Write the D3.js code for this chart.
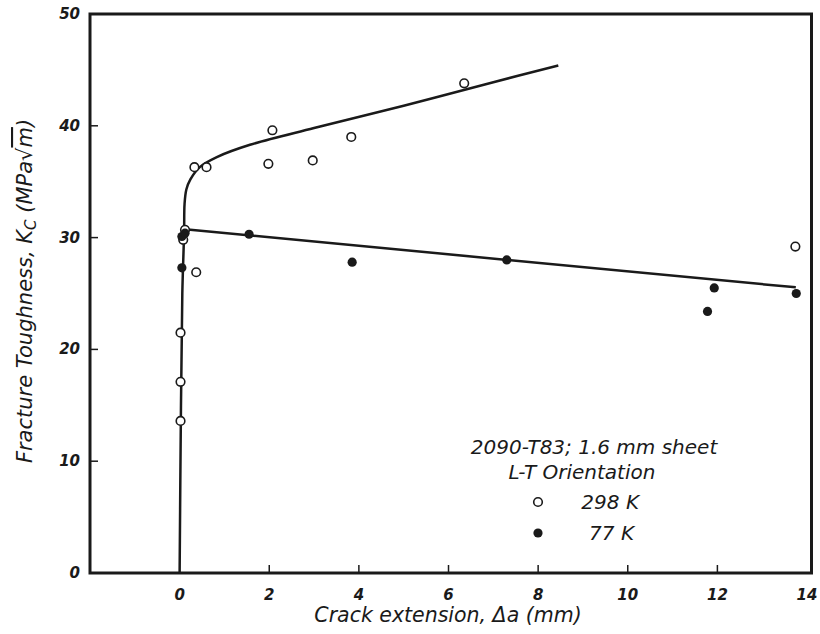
<!DOCTYPE html>
<html>
<head>
<meta charset="utf-8">
<script src="https://cdn.jsdelivr.net/npm/d3@7"></script>
<style>
	body { margin: 0; background: #fff; }
	text { font-family: "DejaVu Sans", sans-serif; font-style: italic; fill: #1a1a1a; }
</style>
</head>
<body>
<div id="svg-container"></div>
<script>
var width = 820;
var height = 634;

// tick values
var xTicks = [0, 2, 4, 6, 8, 10, 12, 14];
var yTicks = [0, 10, 20, 30, 40, 50];

// 298 K (open circles)
var warmX = [0.02, 0.02, 0.02, 0.08, 0.12, 0.37, 0.33, 0.6, 1.98, 2.07, 2.97, 3.83, 6.35, 13.74];
var warmY = [13.6, 17.1, 21.5, 29.8, 30.7, 26.9, 36.3, 36.3, 36.6, 39.6, 36.9, 39.0, 43.8, 29.2];

// 77 K (filled circles)
var coldX = [0.05, 0.12, 0.05, 1.55, 3.85, 7.3, 11.78, 11.93, 13.76];
var coldY = [30.1, 30.4, 27.3, 30.3, 27.8, 28.0, 23.4, 25.5, 25.0];

// hand drawn fit curves
var warmFitX = [0, 0.03, 0.06, 0.1, 0.11, 0.15, 0.24, 0.45, 0.83, 1.57, 3, 5, 7, 8.45];
var warmFitY = [0, 15, 25, 30.5, 33, 34.3, 35.2, 36.3, 37.2, 38.3, 39.8, 41.8, 43.9, 45.4];
var coldFitX = [0.12, 13.75];
var coldFitY = [30.75, 25.55];

var svg = d3.select("#svg-container").append("svg")
	.attr("width", width)
	.attr("height", height);

var x = d3.scaleLinear().domain([-2, 14.1]).range([90, 811.5]);
var y = d3.scaleLinear().domain([0, 50]).range([573, 14]);

function zip(xs, ys) {
	return xs.map(function(d, i) { return {x: d, y: ys[i]}; });
}

// frame
svg.append("rect")
	.attr("x", x(-2))
	.attr("y", y(50))
	.attr("width", x(14.1) - x(-2))
	.attr("height", y(0) - y(50))
	.attr("fill", "none")
	.attr("stroke", "#1a1a1a")
	.attr("stroke-width", 3);

// inward ticks
svg.selectAll(".xtick")
	.data(xTicks.filter(function(d) { return d > 0 && d < 14; }))
	.enter()
	.append("line")
	.attr("x1", function(d) { return x(d); })
	.attr("x2", function(d) { return x(d); })
	.attr("y1", y(0))
	.attr("y2", y(0) - 8)
	.attr("stroke", "#1a1a1a")
	.attr("stroke-width", 1.5);

svg.selectAll(".ytick")
	.data(yTicks.filter(function(d) { return d > 0 && d < 50; }))
	.enter()
	.append("line")
	.attr("x1", x(-2))
	.attr("x2", x(-2) + 8)
	.attr("y1", function(d) { return y(d); })
	.attr("y2", function(d) { return y(d); })
	.attr("stroke", "#1a1a1a")
	.attr("stroke-width", 1.5);

// tick labels
svg.selectAll(".xlabel")
	.data(xTicks)
	.enter()
	.append("text")
	.attr("x", function(d) { return x(d); })
	.attr("y", 600)
	.attr("text-anchor", "middle")
	.attr("font-size", 15)
	.attr("font-weight", "bold")
	.text(function(d) { return d; });

svg.selectAll(".ylabel")
	.data(yTicks)
	.enter()
	.append("text")
	.attr("x", x(-2) - 10)
	.attr("y", function(d) { return y(d) + 5; })
	.attr("text-anchor", "end")
	.attr("font-size", 15)
	.attr("font-weight", "bold")
	.text(function(d) { return d; });

// axis titles
svg.append("text")
	.attr("x", 448)
	.attr("y", 622)
	.attr("text-anchor", "middle")
	.attr("font-size", 20.5)
	.text("Crack extension, \u0394a (mm)");

var ytitle = svg.append("text")
	.attr("transform", "translate(32,291) rotate(-90)")
	.attr("text-anchor", "middle")
	.attr("font-size", 21);
ytitle.append("tspan").text("Fracture Toughness, K");
ytitle.append("tspan").attr("font-size", 15).attr("baseline-shift", "-25%").text("C");
ytitle.append("tspan").text(" (MPa\u221A");
ytitle.append("tspan").style("text-decoration", "overline").text("m");
ytitle.append("tspan").text(")");

// fit lines
var line = d3.line()
	.x(function(d) { return x(d.x); })
	.y(function(d) { return y(d.y); })
	.curve(d3.curveCatmullRom.alpha(0.5));

svg.append("path")
	.datum(zip(warmFitX, warmFitY))
	.attr("d", line)
	.attr("fill", "none")
	.attr("stroke", "#1a1a1a")
	.attr("stroke-width", 2.5);

svg.append("path")
	.datum(zip(coldFitX, coldFitY))
	.attr("d", line)
	.attr("fill", "none")
	.attr("stroke", "#1a1a1a")
	.attr("stroke-width", 2.5);

// points
svg.selectAll(".warm")
	.data(zip(warmX, warmY))
	.enter()
	.append("circle")
	.attr("cx", function(d) { return x(d.x); })
	.attr("cy", function(d) { return y(d.y); })
	.attr("r", 4.3)
	.attr("fill", "#fff")
	.attr("stroke", "#1a1a1a")
	.attr("stroke-width", 1.6);

svg.selectAll(".cold")
	.data(zip(coldX, coldY))
	.enter()
	.append("circle")
	.attr("cx", function(d) { return x(d.x); })
	.attr("cy", function(d) { return y(d.y); })
	.attr("r", 4.6)
	.attr("fill", "#1a1a1a");

// legend
svg.append("text")
	.attr("x", 594)
	.attr("y", 454)
	.attr("text-anchor", "middle")
	.attr("font-size", 20)
	.text("2090-T83; 1.6 mm sheet");
svg.append("text")
	.attr("x", 582)
	.attr("y", 479)
	.attr("text-anchor", "middle")
	.attr("font-size", 20)
	.text("L-T Orientation");
svg.append("circle")
	.attr("cx", 538).attr("cy", 502).attr("r", 4.3)
	.attr("fill", "#fff").attr("stroke", "#1a1a1a").attr("stroke-width", 1.6);
svg.append("text")
	.attr("x", 639).attr("y", 509)
	.attr("text-anchor", "end")
	.attr("font-size", 20)
	.text("298 K");
svg.append("circle")
	.attr("cx", 538).attr("cy", 533).attr("r", 4.6)
	.attr("fill", "#1a1a1a");
svg.append("text")
	.attr("x", 634).attr("y", 540)
	.attr("text-anchor", "end")
	.attr("font-size", 20)
	.text("77 K");
</script>
</body>
</html>
